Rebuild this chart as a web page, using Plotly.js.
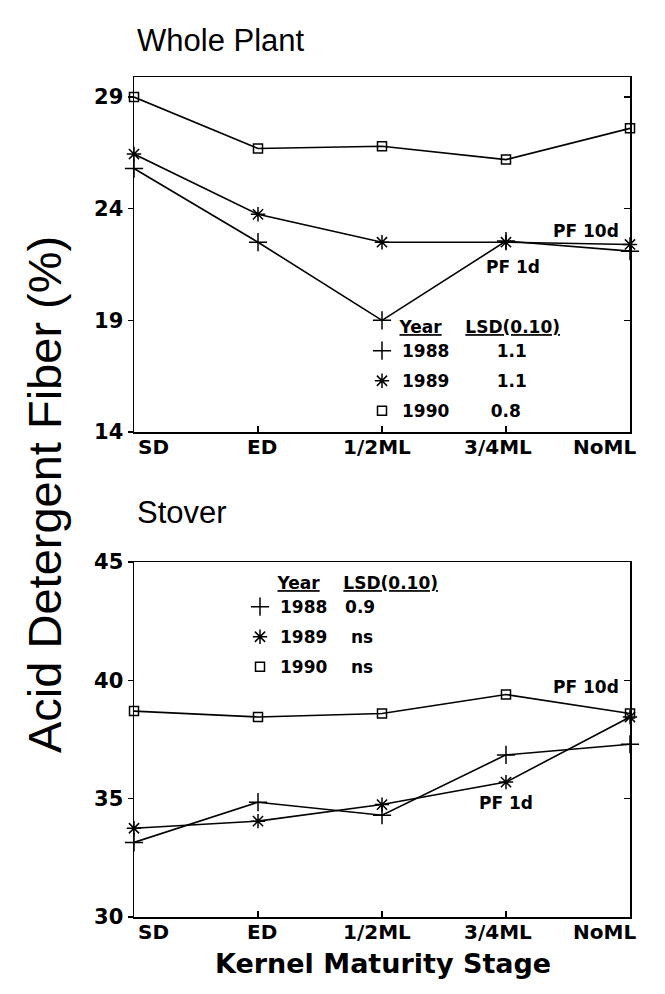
<!DOCTYPE html>
<html>
<head>
<meta charset="utf-8">
<script src="https://cdn.plot.ly/plotly-3.0.1.min.js"></script>
<style>html,body{margin:0;padding:0;background:#fff;}#chart{width:665px;height:994px;}</style>
</head>
<body>
<div id="chart"></div>
<script>
// ---- data ----
const stages = ["SD", "ED", "1/2ML", "3/4ML", "NoML"];
const years = ["1988", "1989", "1990"];

// Whole plant ADF (%)
const whole1988 = [25.8, 22.5, 19.0, 22.55, 22.1];
const whole1989 = [26.45, 23.75, 22.5, 22.5, 22.4];
const whole1990 = [29.0, 26.7, 26.8, 26.2, 27.6];
const wholeLSD = ["1.1", "1.1", "0.8"];

// Stover ADF (%)
const stover1988 = [33.15, 34.85, 34.3, 36.85, 37.3];
const stover1989 = [33.75, 34.05, 34.75, 35.7, 38.45];
const stover1990 = [38.7, 38.45, 38.6, 39.4, 38.6];
const stoverLSD = ["0.9", "ns", "ns"];

const yTicksWhole = [14, 19, 24, 29];
const yTicksStover = [30, 35, 40, 45];

// ---- styling ----
const SANS = "Liberation Sans, Arial, sans-serif";
const BOLD = "DejaVu Sans, sans-serif";
const symbols = ["cross-thin-open", "asterisk-open", "square-open"];
const msizes = [13, 12, 9];
const xpos = stages.map((s, i) => i);
const nb = n => "\u00A0".repeat(n);

const traces = [];
function addSeries(vals, k, xa, ya, lg, lsd, valGap) {
  traces.push({
    x: xpos, y: vals, xaxis: xa, yaxis: ya, mode: "lines+markers",
    line: {color: "#000", width: 1.6},
    marker: {symbol: symbols[k], size: msizes[k], color: "#000", line: {color: "#000", width: 1.5}},
    cliponaxis: false, showlegend: false, hoverinfo: "skip"
  });
  traces.push({
    x: [null], y: [null], xaxis: xa, yaxis: ya, mode: "markers",
    marker: {symbol: symbols[k], size: msizes[k], color: "#000", line: {color: "#000", width: 1.5}},
    name: years[k] + nb(valGap[k]) + lsd[k], legend: lg, legendgroup: lg + k, showlegend: true
  });
}
const wholeSeries = [whole1988, whole1989, whole1990];
const stoverSeries = [stover1988, stover1989, stover1990];
wholeSeries.forEach((v, k) => addSeries(v, k, "x", "y", "legend", wholeLSD, [8, 8, 7]));
stoverSeries.forEach((v, k) => addSeries(v, k, "x2", "y2", "legend2", stoverLSD, [3, 4, 4]));
// overlay axes for inward right-side ticks
traces.push({x: [], y: [], xaxis: "x", yaxis: "y3", showlegend: false, hoverinfo: "skip"});
traces.push({x: [], y: [], xaxis: "x2", yaxis: "y4", showlegend: false, hoverinfo: "skip"});

const xDom = [134 / 665, 630 / 665];
const topDom = [1 - 432 / 994, 1 - 77 / 994];
const botDom = [1 - 917 / 994, 1 - 562 / 994];

function xAxis(anchor) {
  return {domain: xDom, anchor: anchor, range: [0, 4], tickvals: xpos, showticklabels: false,
    ticks: "inside", ticklen: 6, tickwidth: 1.2, tickcolor: "#000",
    showline: true, linecolor: "#000", linewidth: 1.5, mirror: true,
    showgrid: false, zeroline: false, fixedrange: true};
}
function yAxis(anchor, dom, range, tv) {
  return {domain: dom, anchor: anchor, range: range, tickvals: tv,
    ticks: "outside", ticklen: 5, tickwidth: 1.2, tickcolor: "#000",
    tickfont: {family: BOLD, size: 21, color: "#000", weight: "bold"},
    showline: true, linecolor: "#000", linewidth: 1.5, mirror: true,
    showgrid: false, zeroline: false, fixedrange: true};
}
function yRight(overlay, anchor, range, tv) {
  return {overlaying: overlay, anchor: anchor, side: "right", range: range, tickvals: tv,
    ticks: "inside", ticklen: 6, tickwidth: 1.2, tickcolor: "#000", showticklabels: false,
    showline: false, showgrid: false, zeroline: false, fixedrange: true};
}

const annotations = [];
// x tick labels
const labAnchor = ["left", "center", "center", "center", "right"];
const labShift = [2, 4, -5, -8, 8];
[["x", 1 - 447 / 994], ["x2", 1 - 932 / 994]].forEach(([xa, yy]) => {
  stages.forEach((s, i) => {
    annotations.push({text: s, x: i, xref: xa, y: yy, yref: "paper", xanchor: labAnchor[i],
      yanchor: "middle", xshift: labShift[i], showarrow: false,
      font: {family: BOLD, size: 20, color: "#000", weight: "bold"}});
  });
});
// panel titles
annotations.push({text: "Whole Plant", x: 135 / 665, y: 1 - 40 / 994, xref: "paper", yref: "paper",
  xanchor: "left", yanchor: "middle", showarrow: false, font: {family: SANS, size: 31, color: "#000"}});
annotations.push({text: "Stover", x: 135 / 665, y: 1 - 512 / 994, xref: "paper", yref: "paper",
  xanchor: "left", yanchor: "middle", showarrow: false, font: {family: SANS, size: 31, color: "#000"}});
// axis titles
annotations.push({text: "Acid Detergent Fiber (%)", x: 44 / 665, y: 1 - 495 / 994, xref: "paper", yref: "paper",
  xanchor: "center", yanchor: "middle", textangle: -90, showarrow: false,
  font: {family: SANS, size: 47, color: "#000"}});
annotations.push({text: "Kernel Maturity Stage", x: 383 / 665, y: 1 - 963 / 994, xref: "paper", yref: "paper",
  xanchor: "center", yanchor: "middle", showarrow: false,
  font: {family: BOLD, size: 27, color: "#000", weight: "bold"}});
// curve labels
const pfFont = {family: BOLD, size: 17, color: "#000", weight: "bold"};
annotations.push({text: "PF 10d", x: 4, y: 23.0, xref: "x", yref: "y", xanchor: "right", xshift: -9, showarrow: false, font: pfFont});
annotations.push({text: "PF 1d", x: 3.06, y: 21.4, xref: "x", yref: "y", xanchor: "center", showarrow: false, font: pfFont});
annotations.push({text: "PF 10d", x: 4, y: 39.7, xref: "x2", yref: "y2", xanchor: "right", xshift: -9, showarrow: false, font: pfFont});
annotations.push({text: "PF 1d", x: 3.0, y: 34.83, xref: "x2", yref: "y2", xanchor: "center", showarrow: false, font: pfFont});

const legFont = {family: BOLD, size: 17, color: "#000", weight: "bold"};
function legend(x, y, pad, gap) {
  return {x: x, y: y, xanchor: "left", yanchor: "top", bgcolor: "rgba(0,0,0,0)", borderwidth: 0,
    font: legFont, tracegroupgap: 5, itemclick: false, itemdoubleclick: false,
    title: {text: nb(pad) + "<u>Year</u>" + nb(gap) + "<u>LSD(0.10)</u>", font: legFont, side: "top"}};
}

const layout = {
  width: 665, height: 994, paper_bgcolor: "#fff", plot_bgcolor: "rgba(0,0,0,0)",
  margin: {l: 0, r: 0, t: 0, b: 0},
  xaxis: xAxis("y"), yaxis: yAxis("x", topDom, [14, 29.9], yTicksWhole),
  xaxis2: xAxis("y2"), yaxis2: yAxis("x2", botDom, [30, 45], yTicksStover),
  yaxis3: yRight("y", "x", [14, 29.9], yTicksWhole),
  yaxis4: yRight("y2", "x2", [30, 45], yTicksStover),
  legend: legend(362 / 665, 1 - 311 / 994, 6, 4),
  legend2: legend(240 / 665, 1 - 567 / 994, 6, 4),
  annotations: annotations,
  showlegend: true
};

Plotly.newPlot("chart", traces, layout, {displayModeBar: false, staticPlot: true});
</script>
</body>
</html>
